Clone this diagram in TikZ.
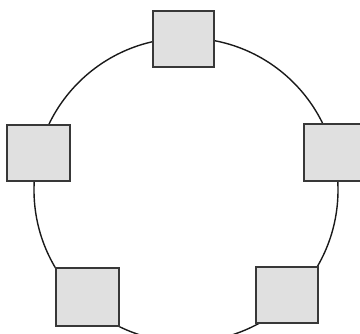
\documentclass[tikz,border=0pt]{standalone}
\begin{document}
\begin{tikzpicture}[x=1pt,y=-1pt,
  ring/.style={draw=black!90,line width=1.4pt,circle,minimum size=304pt,inner sep=0pt},
  station/.style={draw=black!78,fill=black!12,line width=1.8pt,rectangle,inner sep=0pt},
]
\useasboundingbox (0,0) rectangle (360,334);
\begin{scope}
\clip (0,0) rectangle (360,334);
\node[ring] (ring) at (186,190) {};
\node[station,minimum width=61pt,minimum height=56pt] (top) at (183.5,39) {};
\node[station,minimum width=63pt,minimum height=56pt] (left) at (38.5,153) {};
\node[station,minimum width=62pt,minimum height=57pt] (right) at (335,152.5) {};
\node[station,minimum width=63pt,minimum height=58pt] (bl) at (87.5,297) {};
\node[station,minimum width=62pt,minimum height=56pt] (br) at (287,295) {};
\end{scope}
\end{tikzpicture}
\end{document}
